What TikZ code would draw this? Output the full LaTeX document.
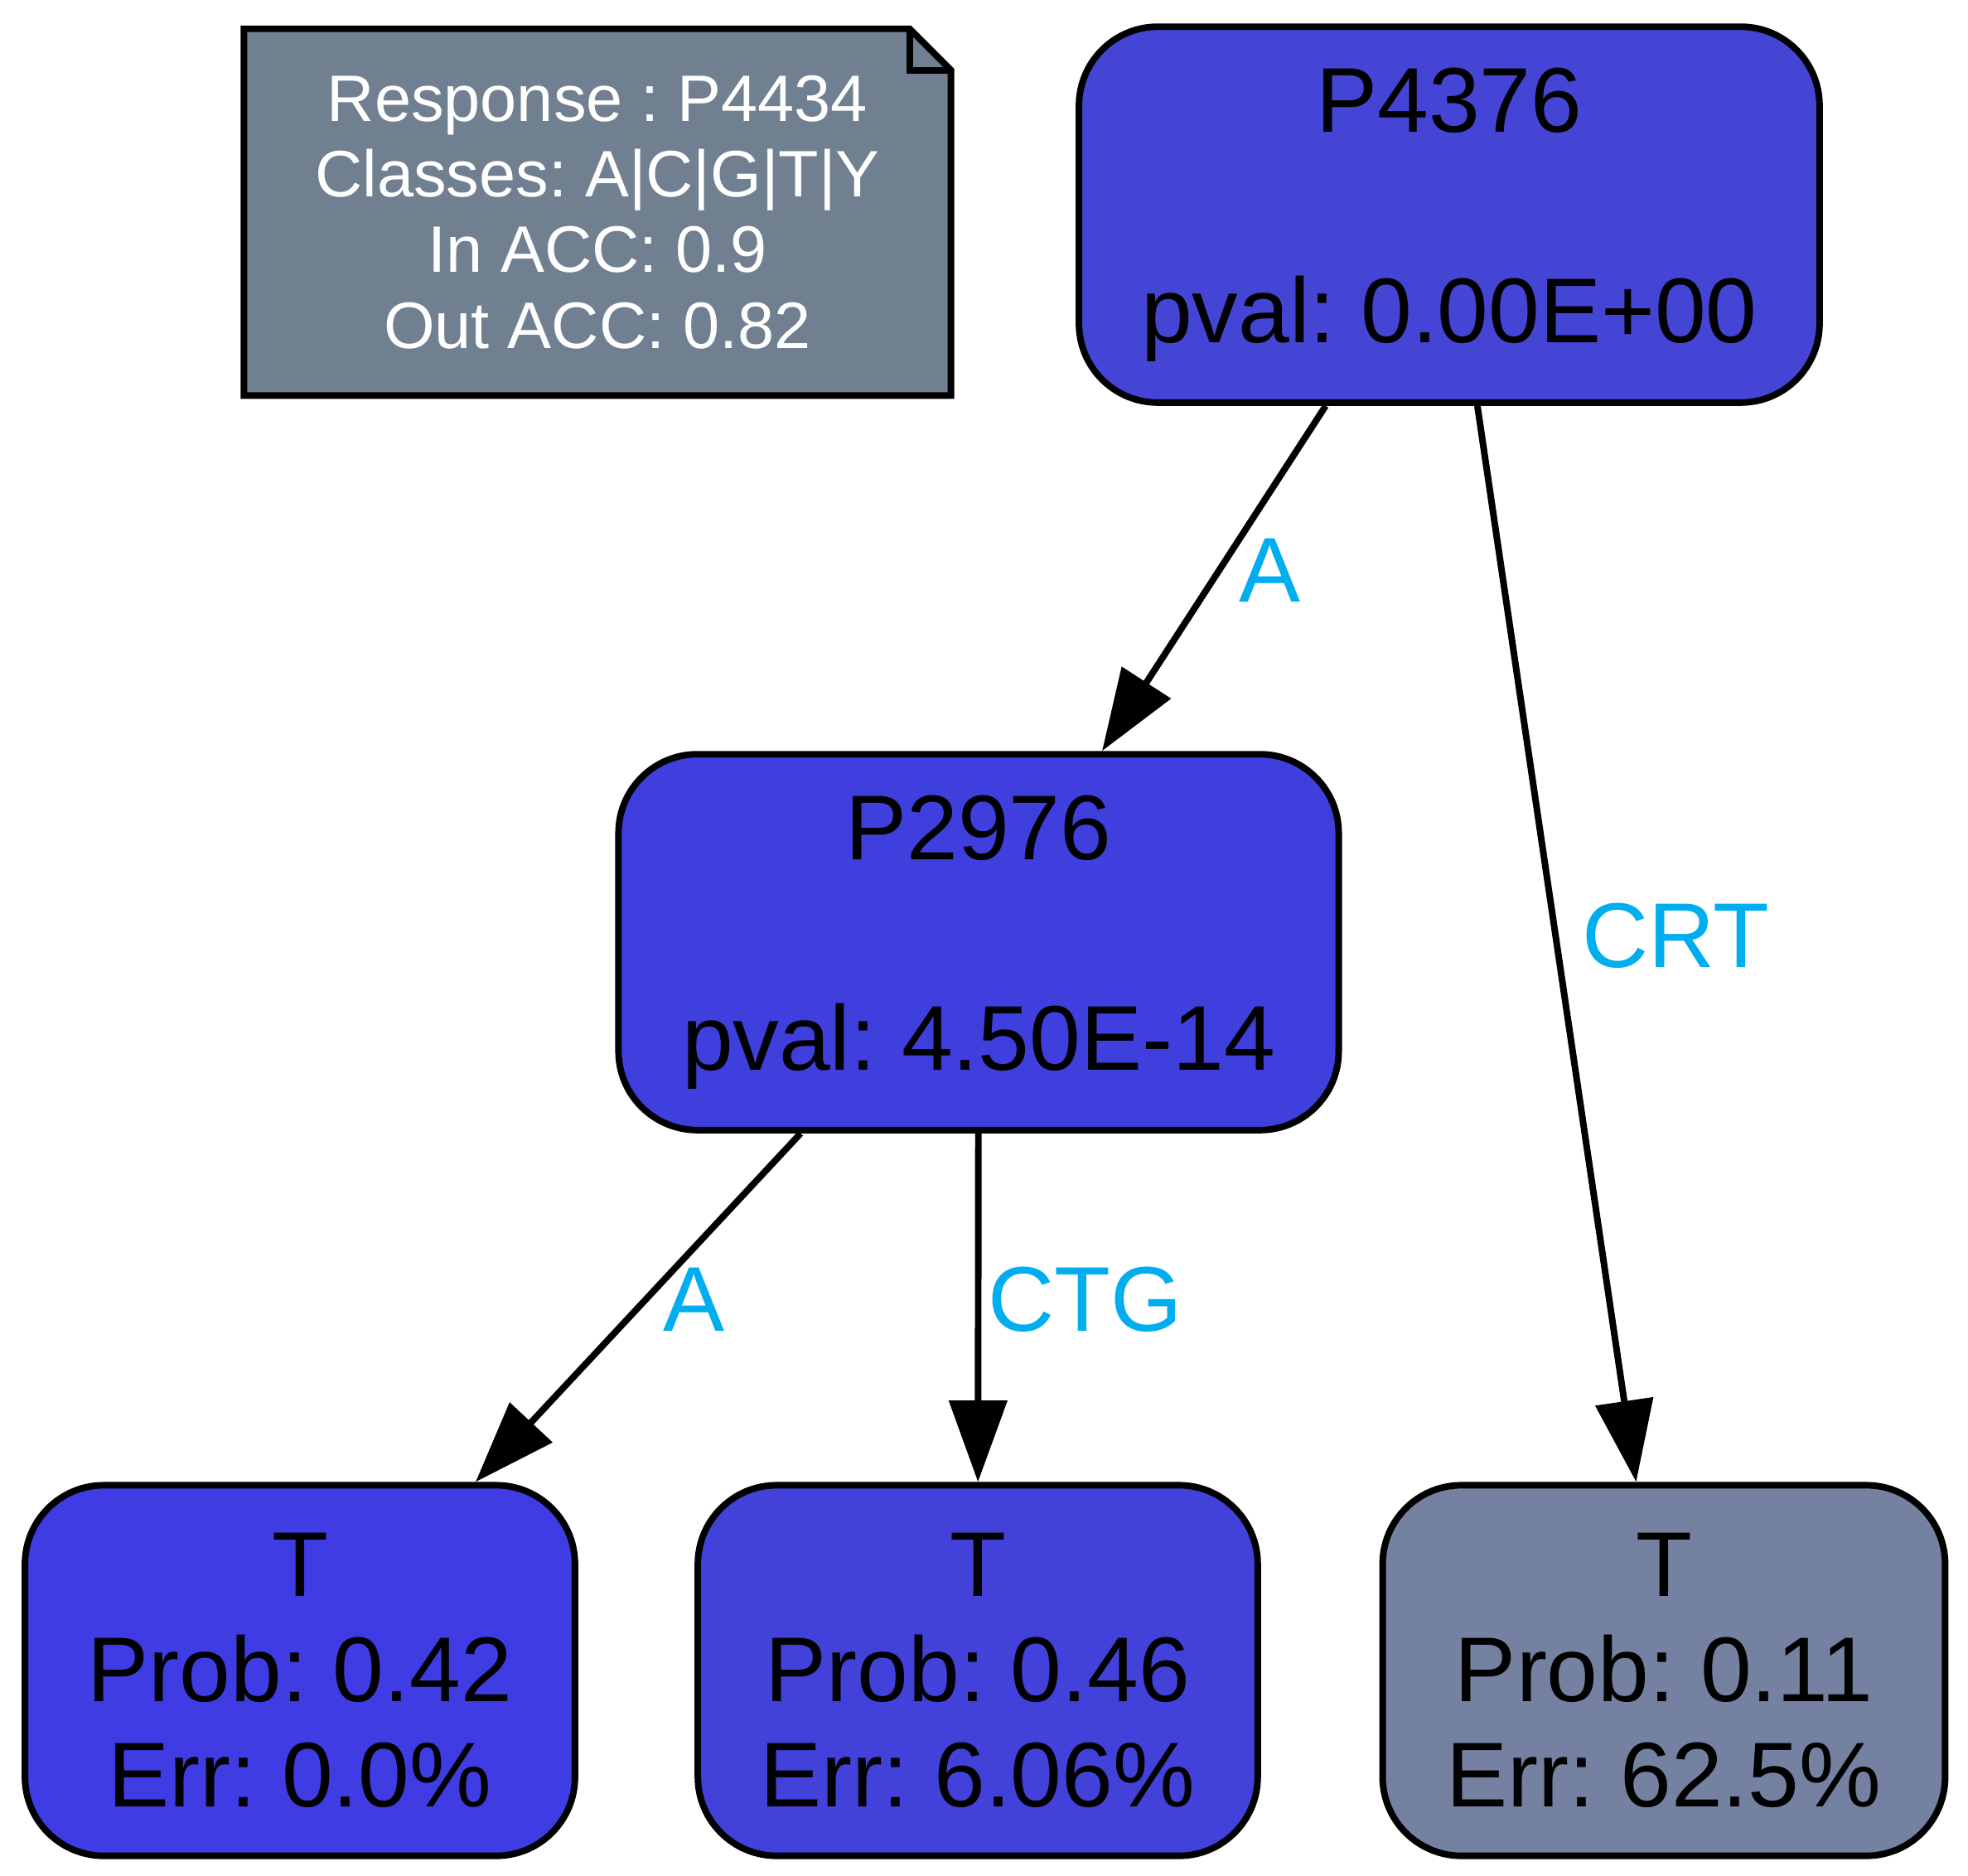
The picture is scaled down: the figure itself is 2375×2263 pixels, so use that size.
\documentclass[tikz,border=0pt]{standalone}
\usepackage{fontspec}
\setmainfont{Liberation Sans}
\usetikzlibrary{arrows.meta, backgrounds}
\frenchspacing

\definecolor{notegray}{HTML}{708090}
\definecolor{rootblue}{HTML}{4545D5}
\definecolor{innerblue}{HTML}{3F3FDD}
\definecolor{leafblueA}{HTML}{3F3CE4}
\definecolor{leafblueB}{HTML}{4242DA}
\definecolor{leafgray}{HTML}{7581A0}
\definecolor{labelcyan}{HTML}{00AEEF}

\begin{document}
\begin{tikzpicture}[
	x=0.1261pt, y=-0.1261pt,
	tnode/.style={rectangle, rounded corners=12pt, draw, line width=1pt, align=center, font=\fontsize{14}{16}\selectfont, minimum height=57.2pt},
	leaf/.style={tnode, minimum height=56.4pt},
	notebox/.style={rectangle, align=center, text=white, font=\fontsize{10}{11.5}\selectfont, minimum width=107.2pt, minimum height=54.9pt},
	arrow/.style={-{Triangle[length=12.4pt, width=8.7pt]}, line width=1pt},
	elabel/.style={font=\fontsize{14}{16}\selectfont, text=labelcyan, yshift=1.2pt}
]
	\useasboundingbox (0,0) rectangle (2375,2263);

	% Summary note
	\node[notebox] (note) at (721,256) {Response : P4434\\Classes: A|C|G|T|Y\\In ACC: 0.9\\Out ACC: 0.82};
	\begin{scope}[on background layer]
		\draw[line width=1pt, fill=notegray] ([yshift=-0.25pt]note.south west) -- ([yshift=0.25pt]note.north west) -- ([xshift=-6.3pt,yshift=0.25pt]note.north east) -- ([yshift=-6.05pt]note.north east) -- ([yshift=-0.25pt]note.south east) -- cycle;
	\end{scope}
	\draw[line width=1pt] ([xshift=-6.3pt,yshift=0.25pt]note.north east) |- ([yshift=-6.05pt]note.north east);

	% Split nodes
	\node[tnode, fill=rootblue, minimum width=112.7pt] (p4376) at (1749,259) {P4376\\[16pt]pval: 0.00E+00};
	\node[tnode, fill=innerblue, minimum width=109.6pt] (p2976) at (1181,1137) {P2976\\[16pt]pval: 4.50E-14};

	% Leaves
	\node[leaf, fill=leafblueA, minimum width=83.7pt] (leafa) at (362,2016) {T\\Prob: 0.42\\Err: 0.0\%};
	\node[leaf, fill=leafblueB, minimum width=85.2pt] (leafb) at (1180,2016) {T\\Prob: 0.46\\Err: 6.06\%};
	\node[leaf, fill=leafgray, minimum width=85.6pt] (leafc) at (2008,2016) {T\\Prob: 0.11\\Err: 62.5\%};

	% Arrows
	\draw[arrow] (p4376) -- node[elabel, right] {A} (p2976);
	\draw[arrow] (p4376) -- node[elabel, right] {CRT} (leafc);
	\draw[arrow] (p2976) -- node[elabel, right] {A} (leafa);
	\draw[arrow] (p2976) -- node[elabel, right, inner sep=1pt] {CTG} (leafb);
\end{tikzpicture}
\end{document}
